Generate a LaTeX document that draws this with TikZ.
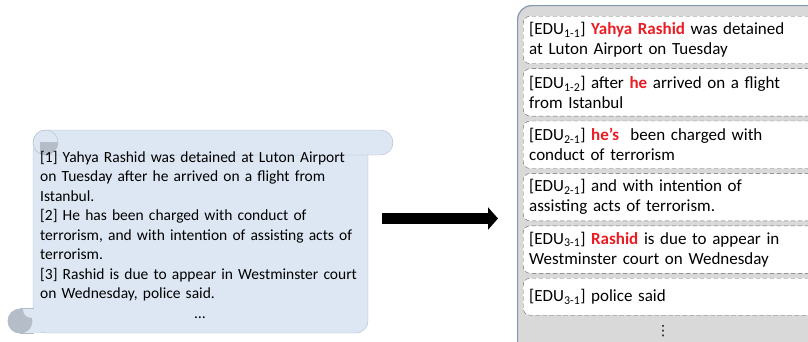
\documentclass[tikz,border=0pt]{standalone}
\usepackage{fontspec}
\setmainfont{Carlito}
\newfontfamily\symfont{DejaVu Sans}
\usetikzlibrary{arrows.meta,positioning}
\definecolor{ScrollBlue}{RGB}{221,231,243}
\definecolor{ScrollLine}{RGB}{178,188,202}
\definecolor{CurlGray}{RGB}{181,189,201}
\definecolor{PanelGray}{RGB}{217,217,217}
\definecolor{PanelLine}{RGB}{132,151,176}
\definecolor{EduLine}{RGB}{100,100,100}
\definecolor{NameRed}{RGB}{235,28,36}
\newcommand{\edutag}[1]{[EDU\textsubscript{#1}]}
\newcommand{\ent}[1]{\textcolor{NameRed}{\bfseries #1}}

\begin{document}
\begin{tikzpicture}[x=1pt,y=-1pt,>=Latex,
  edubox/.style={draw=EduLine,dash pattern=on 4.5pt off 2.5pt,fill=white,rounded corners=7pt,
    minimum width=300pt,text width=288pt,minimum height=47.5pt,inner xsep=5pt,inner ysep=0pt,
    align=left,font=\fontsize{17}{20}\selectfont},
  srcfont/.style={font=\fontsize{15.5}{19.5}\selectfont}]
\clip (0,0) rectangle (808,341);
% scroll
\draw[fill=ScrollBlue,draw=ScrollLine,rounded corners=12pt] (33,140) rectangle (368,333);
\draw[fill=ScrollBlue,draw=ScrollLine] (20,308) rectangle (33,333);
\fill[ScrollBlue] (21,309) rectangle (40,332.5);
\draw[fill=ScrollBlue,draw=ScrollLine,rounded corners=12.5pt] (33,130) rectangle (393,155);
\draw[fill=ScrollBlue,draw=ScrollLine] (45.5,142.5) circle (12.5);
\begin{scope}
  \clip (40,142.5) rectangle (60,156);
  \fill[CurlGray] (45.5,142.5) circle (12.5);
\end{scope}
\fill[CurlGray] (20,321) circle (12.5);
\fill[ScrollBlue] (33,309) -- (23,309) .. controls (23,315) and (27,318) .. (33,318) -- cycle;
\node[srcfont,anchor=north west,text width=335pt,align=left,inner sep=0pt] (srctext) at (40,151)
  {[1] Yahya Rashid was detained at Luton Airport\\
   on Tuesday after he arrived on a flight from\\
   Istanbul.\\
   {[2]} He has been charged with conduct of\\
   terrorism, and with intention of assisting acts of\\
   terrorism.\\
   {[3]} Rashid is due to appear in Westminster court\\
   on Wednesday, police said.};
\node[srcfont] (srcdots) at (200,318) {\dots};
% EDU panel
\node[draw=PanelLine,fill=PanelGray,line width=1.2pt,rounded corners=14pt,anchor=north west,
  minimum width=320pt,minimum height=360pt] (panel) at (517,5) {};
\node[edubox,anchor=north west] (edu11) at (523,16)
  {\edutag{1-1} \ent{Yahya Rashid} was detained\\at Luton Airport on Tuesday};
\node[edubox,below=4.5pt of edu11.south west,anchor=north west] (edu12)
  {\edutag{1-2} after \ent{he} arrived on a flight\\from Istanbul};
\node[edubox,below=4.5pt of edu12.south west,anchor=north west] (edu21)
  {\edutag{2-1} \ent{he's}\ \ been charged with\\conduct of terrorism};
\node[edubox,below=4.5pt of edu21.south west,anchor=north west] (edu21b)
  {\edutag{2-1} and with intention of\\assisting acts of terrorism.};
\node[edubox,below=4.5pt of edu21b.south west,anchor=north west] (edu31)
  {\edutag{3-1} \ent{Rashid} is due to appear in\\Westminster court on Wednesday};
\node[edubox,minimum height=37pt,below=4.5pt of edu31.south west,anchor=north west] (edu31b)
  {\edutag{3-1} police said};
\node[font=\symfont\fontsize{14}{14}\selectfont,inner sep=0pt] (edudots) at (663,331) {⋮};
% arrow
\coordinate (arrowtail) at (382,218.5);
\coordinate (arrowtip) at (498,218.5);
\draw[line width=11pt,-{Triangle[length=10pt,width=22pt]}] (arrowtail) -- (arrowtip);
\end{tikzpicture}
\end{document}
